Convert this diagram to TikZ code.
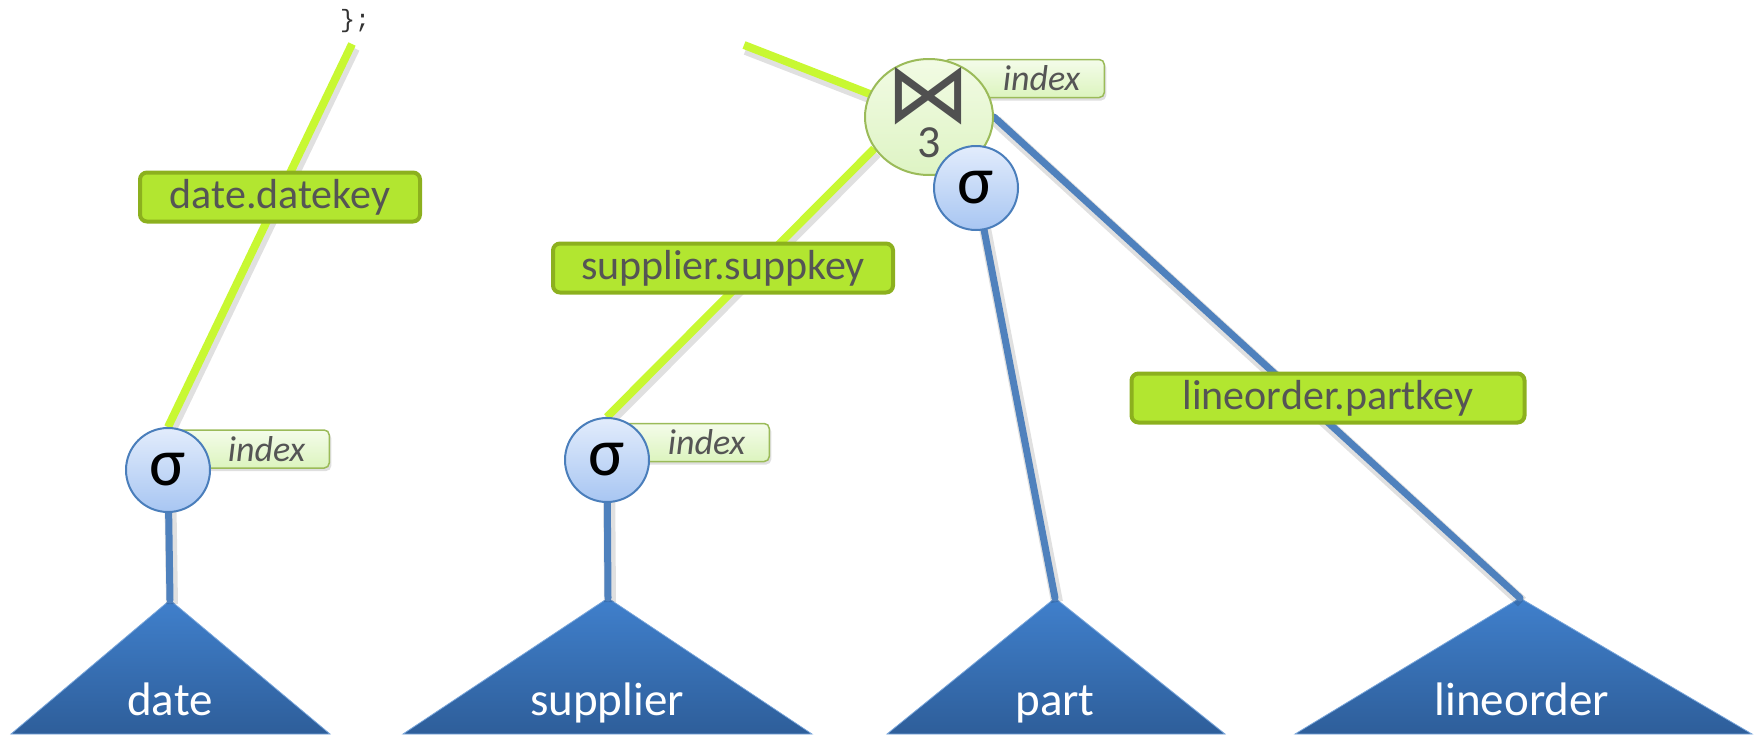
\documentclass[tikz,border=0pt]{standalone}
\usepackage{fontspec}
\setmainfont{Carlito}
\newfontfamily\dejavu{DejaVu Sans}
\newfontfamily\codefont{Liberation Mono}
\usetikzlibrary{shadows,shapes.geometric}
\newdimen\pxu \pxu=0.5pt
\definecolor{lime}{RGB}{200,248,50}
\definecolor{limebox}{RGB}{178,230,48}
\definecolor{limeborder}{RGB}{140,176,30}
\definecolor{olive}{RGB}{155,187,89}
\definecolor{edgeblue}{RGB}{79,129,189}
\definecolor{txtgray}{RGB}{85,85,85}
\definecolor{symgray}{RGB}{80,80,80}
\definecolor{triTop}{RGB}{64,128,204}
\definecolor{triBot}{RGB}{46,94,154}
\definecolor{sigTop}{RGB}{226,236,252}
\definecolor{sigBot}{RGB}{168,198,242}
\definecolor{sigBorder}{RGB}{74,126,187}
\definecolor{joinTop}{RGB}{242,251,228}
\definecolor{joinBot}{RGB}{222,244,196}
\definecolor{tagTop}{RGB}{244,252,234}
\definecolor{tagBot}{RGB}{220,244,190}
\pgfdeclarelayer{tri}
\pgfdeclarelayer{lines}
\pgfsetlayers{tri,lines,main}
\begin{document}
\begin{tikzpicture}[x=0.5pt,y=-0.5pt,
  sigmanode/.style={circle, draw=sigBorder, line width=2\pxu, top color=sigTop, bottom color=sigBot, minimum size=84\pxu, inner sep=0pt, font=\fontsize{34}{34}\selectfont},
  tagnode/.style={draw=olive, line width=1.5\pxu, rounded corners=5\pxu, top color=tagTop, bottom color=tagBot, drop shadow={shadow xshift=2\pxu, shadow yshift=-3\pxu, opacity=0.25}, minimum height=38\pxu, inner ysep=0pt, inner xsep=24\pxu, align=right, text=txtgray, font=\fontsize{18}{18}\selectfont\itshape, anchor=east},
  keylabel/.style={draw=limeborder, line width=4\pxu, rounded corners=7\pxu, fill=limebox, text=txtgray, font=\fontsize{21}{21}\selectfont, minimum height=49\pxu, inner sep=0pt},
  tabletext/.style={text=white, font=\fontsize{23.5}{24}\selectfont, anchor=base},
  tableshape/.style={top color=triTop, bottom color=triBot, draw=triTop!70!white, line width=0.8\pxu},
  blueedge/.style={draw=edgeblue, line width=7\pxu, line cap=round},
  greenedge/.style={draw=lime, line width=8\pxu},
  edgeshadow/.style={draw=black, opacity=0.12, line width=12\pxu, transform canvas={shift={(2\pxu,-4\pxu)}}},
  joinnode/.style={ellipse, draw=olive, line width=2\pxu, top color=joinTop, bottom color=joinBot, minimum width=128\pxu, minimum height=116\pxu, inner sep=0pt}
]
\useasboundingbox (0,0) rectangle (1754,734);

% tables
\begin{pgfonlayer}{tri}
  \coordinate (apexDate) at (170,600);
  \coordinate (apexSup) at (608,598);
  \coordinate (apexPart) at (1055,598);
  \coordinate (apexLine) at (1520,598);
  \path[tableshape] (11,734) -- (apexDate) -- (330,734) -- cycle;
  \path[tableshape] (403,734) -- (apexSup) -- (812,734) -- cycle;
  \path[tableshape] (887,734) -- (apexPart) -- (1225,734) -- cycle;
  \path[tableshape] (1295,734) -- (apexLine) -- (1752,734) -- cycle;
\end{pgfonlayer}
\node[tabletext] (tDate) at (170,715) {date};
\node[tabletext] (tSup) at (607,715) {supplier};
\node[tabletext] (tPart) at (1055,715) {part};
\node[tabletext] (tLine) at (1522,715) {lineorder};

% code fragment
\node[text=black!80, font=\codefont\fontsize{12.5}{13}\selectfont] (code) at (355,21) {\};};
\coordinate (topDate) at (352,44);
\coordinate (topJoin) at (744,45);

% operators
\node[tagnode, text width=122\pxu] (tagDate) at (330,449) {index};
\node[sigmanode] (sigDate) at (168,470) {σ};
\node[tagnode, text width=122\pxu] (tagSup) at (770,442.5) {index};
\node[sigmanode] (sigSup) at (607,460) {σ};
\node[tagnode, text width=112\pxu] (tagJoin) at (1105,78.5) {index};
\node[joinnode] (join) at (929,117) {};
\node[text=symgray, font=\dejavu\fontsize{42}{42}\selectfont, inner sep=0pt] (joinSym) at (928,96) {⋈};
\node[text=symgray, font=\fontsize{23}{23}\selectfont, inner sep=0pt] (joinNum) at (929,143) {3};
\node[sigmanode] (sigPart) at (976,188) {σ};

% key labels
\node[keylabel, minimum width=280\pxu] (kDate) at (280,197) {date.datekey};
\node[keylabel, minimum width=340\pxu] (kSup) at (723,268) {supplier.suppkey};
\node[keylabel, minimum width=393\pxu] (kLine) at (1328,398) {lineorder.partkey};

% edges
\begin{pgfonlayer}{lines}
  \draw[edgeshadow] (topDate) -- (sigDate.north);
  \draw[edgeshadow] (topJoin) -- (join.center);
  \draw[edgeshadow] (join.210) -- (sigSup.north);
  \draw[edgeshadow] (join.east) -- (apexLine);
  \draw[edgeshadow] (sigPart.center) -- (apexPart);
  \draw[edgeshadow] (sigDate.center) -- (apexDate);
  \draw[edgeshadow] (sigSup.center) -- (apexSup);
  \draw[greenedge] (topDate) -- (sigDate.north);
  \draw[greenedge] (topJoin) -- (join.center);
  \draw[greenedge] (join.210) -- (sigSup.north);
  \draw[blueedge] (join.east) -- (apexLine);
  \draw[blueedge] (sigPart.center) -- (apexPart);
  \draw[blueedge] (sigDate.center) -- (apexDate);
  \draw[blueedge] (sigSup.center) -- (apexSup);
\end{pgfonlayer}
\end{tikzpicture}
\end{document}
